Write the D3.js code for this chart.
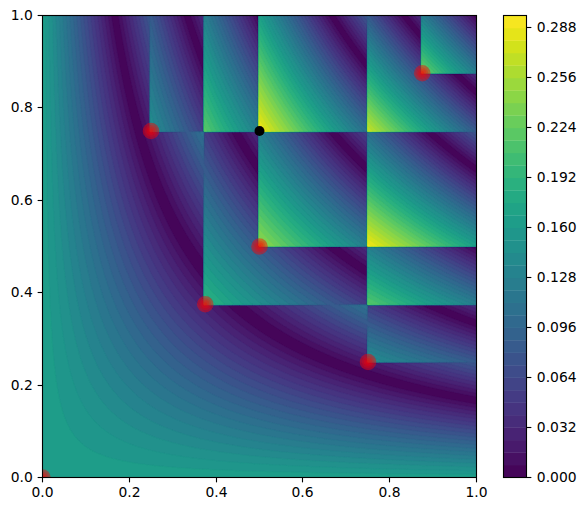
<!DOCTYPE html>
<html>
<head>
<meta charset="utf-8">
<script src="https://cdn.jsdelivr.net/npm/d3@7"></script>
<style>
html,body{margin:0;padding:0;background:#fff}
svg{display:block}
text{font-family:"DejaVu Sans",sans-serif;font-size:13.89px;fill:#000}
</style>
</head>
<body>
<svg id="c" width="585" height="511"></svg>
<script>
// Sample points (red dots) and the marked point (black dot).
const pointX = [0, 0.5, 0.75, 0.25, 0.375, 0.875];
const pointY = [0, 0.5, 0.25, 0.75, 0.375, 0.875];
const markX = [0.5];
const markY = [0.75];
const axisTicks = [0, 0.2, 0.4, 0.6, 0.8, 1.0];
const barTicks = [0, 0.032, 0.064, 0.096, 0.128, 0.16, 0.192, 0.224, 0.256, 0.288];
const levelCount = 37;
const levelStep = 0.008;

const margin = {l: 42.5, r: 476.5, t: 15.5, b: 477.5};
const bar = {l: 503.5, r: 526.5, t: 15.5, b: 477.5};
const svg = d3.select('#c');
const x = d3.scaleLinear([0, 1], [margin.l, margin.r]);
const y = d3.scaleLinear([0, 1], [margin.b, margin.t]);
const levels = d3.range(levelCount + 1).map(i => i * levelStep);
const vmax = levels[levels.length - 1];
const colour = v => d3.interpolateViridis(v / vmax);

// The pictured surface is the local discrepancy of the sample points:
// |area of the box [0,u]x[0,v] - share of the points inside it|, on a regular grid.
// The small slacks place the jumps where the reference's own sampling grid puts them.
const n = 500;
const slackU = 0.0023;
const slackV = 0.0007;
const field = new Float64Array(n * n);
for (let j = 0; j < n; j++) {
  const v = j / (n - 1);
  for (let i = 0; i < n; i++) {
    const u = i / (n - 1);
    let inside = 0;
    for (let k = 0; k < pointX.length; k++) {
      if (pointX[k] <= u + slackU && pointY[k] <= v + slackV) inside++;
    }
    field[j * n + i] = Math.abs(u * v - inside / pointX.length);
  }
}

svg.append('defs').append('clipPath').attr('id', 'plot').append('rect')
  .attr('x', margin.l).attr('y', margin.t)
  .attr('width', margin.r - margin.l).attr('height', margin.b - margin.t);

const contours = d3.contours().size([n, n]).smooth(true).thresholds(levels.slice(0, -1));
const gridPath = d3.geoPath(d3.geoTransform({
  point(px, py) {
    this.stream.point(x((px - 0.5) / (n - 1)), y((py - 0.5) / (n - 1)));
  }
}));

const plot = svg.append('g').attr('clip-path', 'url(#plot)');
plot.selectAll('path.band').data(contours(field)).join('path')
  .attr('class', 'band')
  .attr('d', gridPath)
  .attr('fill', d => colour(d.value + levelStep / 2))
  .attr('stroke', d => colour(d.value + levelStep / 2))
  .attr('stroke-width', 0.3);

// Each red dot shades from a translucent rim to a stronger centre.
const dotRings = [[8.3, 0.45], [6, 0.25], [4, 0.25], [2, 0.3]];
dotRings.forEach(([r, a]) => {
  plot.append('g').selectAll('circle').data(d3.range(pointX.length)).join('circle')
    .attr('cx', i => x(pointX[i])).attr('cy', i => y(pointY[i]))
    .attr('r', r).attr('fill', '#ff0000').attr('fill-opacity', a);
});
plot.selectAll('circle.mark').data(d3.range(markX.length)).join('circle')
  .attr('class', 'mark')
  .attr('cx', i => x(markX[i])).attr('cy', i => y(markY[i]))
  .attr('r', 5).attr('fill', '#000');

// Ticks sit on whole pixel centres, so they stay crisp.
function styleAxis(g, scale, horizontal) {
  g.selectAll('.domain').remove();
  g.selectAll('.tick').attr('transform', d => {
    const p = Math.floor(scale(d)) + 0.5;
    return horizontal ? `translate(${p},0)` : `translate(0,${p})`;
  });
  g.selectAll('.tick line').attr('stroke', '#000').attr('stroke-width', 1.11);
  g.selectAll('.tick text').attr('fill', '#000').style('font-size', '13.89px');
}
const xAxis = d3.axisBottom(x).offset(0).tickValues(axisTicks).tickFormat(d3.format('.1f')).tickSize(4.86).tickPadding(4.86);
const yAxis = d3.axisLeft(y).offset(0).tickValues(axisTicks).tickFormat(d3.format('.1f')).tickSize(4.86).tickPadding(4.86);
svg.append('g').attr('transform', `translate(0,${margin.b})`).call(xAxis).call(styleAxis, x, true);
svg.append('g').attr('transform', `translate(${margin.l},0)`).call(yAxis).call(styleAxis, y, false);
svg.append('rect').attr('x', margin.l).attr('y', margin.t)
  .attr('width', margin.r - margin.l).attr('height', margin.b - margin.t)
  .attr('fill', 'none').attr('stroke', '#000').attr('stroke-width', 1.11);

const cy = d3.scaleLinear([0, vmax], [bar.b, bar.t]);
svg.append('g').selectAll('rect').data(levels.slice(0, -1)).join('rect')
  .attr('x', bar.l).attr('width', bar.r - bar.l)
  .attr('y', d => cy(d + levelStep)).attr('height', d => cy(d) - cy(d + levelStep) + 0.3)
  .attr('fill', d => colour(d + levelStep / 2));
const barAxis = d3.axisRight(cy).offset(0).tickValues(barTicks).tickFormat(d3.format('.3f')).tickSize(4.86).tickPadding(5.5);
svg.append('g').attr('transform', `translate(${bar.r},0)`).call(barAxis).call(styleAxis, cy, false);
svg.append('rect').attr('x', bar.l).attr('y', bar.t)
  .attr('width', bar.r - bar.l).attr('height', bar.b - bar.t)
  .attr('fill', 'none').attr('stroke', '#000').attr('stroke-width', 1.11);
</script>
</body>
</html>
